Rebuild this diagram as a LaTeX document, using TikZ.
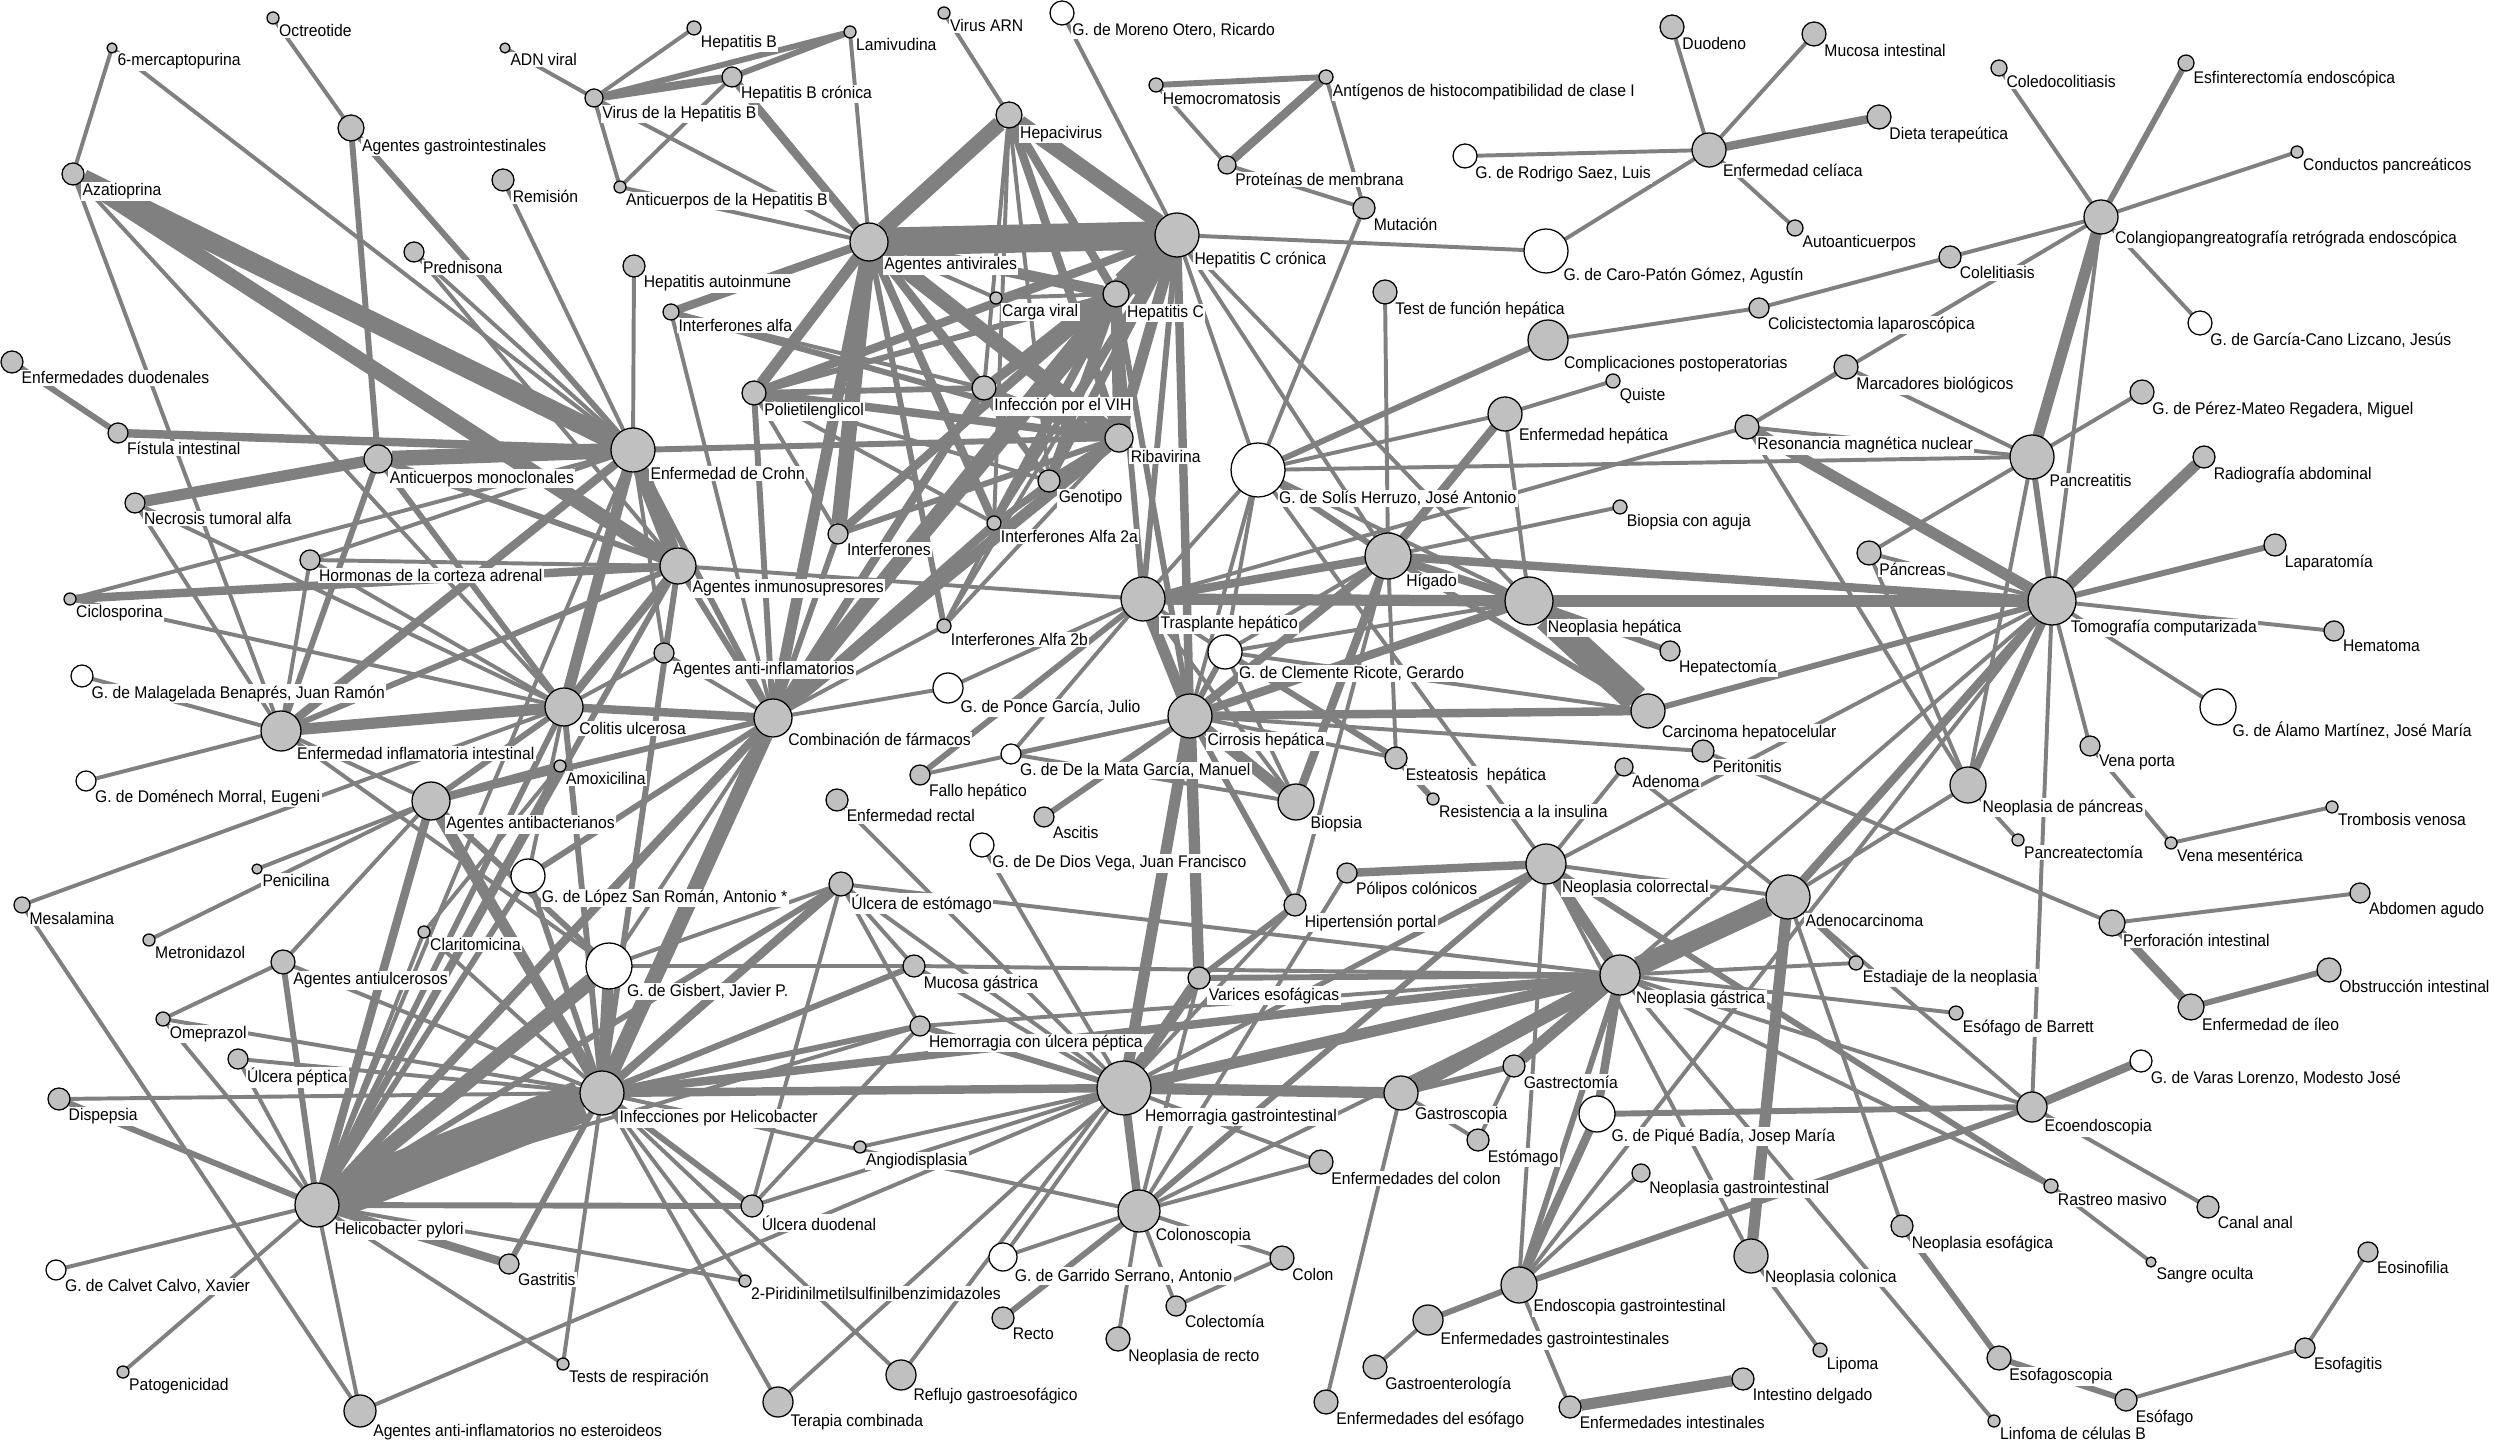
\documentclass[tikz,border=0pt]{standalone}
\usepackage{fontspec}
\newfontfamily\lab[FakeStretch=0.93]{Liberation Sans}
\definecolor{eg}{RGB}{128,128,128}
\definecolor{ng}{RGB}{192,192,192}
\pgfdeclarelayer{back}\pgfdeclarelayer{bg}
\pgfsetlayers{back,bg,main}
\tikzset{
 nbase/.style={circle,draw=black,line width=0.45pt,inner sep=0pt,outer sep=0pt},
 gnode/.style={nbase,fill=ng},
 wnode/.style={nbase,fill=white},
 lbl/.style={anchor=north west,inner sep=0.5pt,fill=white,font=\lab\fontsize{6}{6}\selectfont,text=black},
 ed/.style={draw=eg,line cap=butt},
 e1/.style={ed,line width=1.4pt},
 e2/.style={ed,line width=2.1pt},
 e3/.style={ed,line width=3pt},
 e4/.style={ed,line width=4pt},
 e5/.style={ed,line width=5.5pt},
 e6/.style={ed,line width=7pt},
 e7/.style={ed,line width=10pt},
}
\newcommand\gnd[5]{\node[gnode,minimum size={#4*0.025cm},label={[lbl]-45:{#5}}] (#1) at (#2,#3) {};}
\newcommand\wnd[5]{\node[wnode,minimum size={#4*0.025cm},label={[lbl]-45:{#5}}] (#1) at (#2,#3) {};}
\begin{document}
\begin{tikzpicture}[x=0.0125cm,y=-0.0125cm]
\begin{pgfonlayer}{back}
\fill[white] (0,0) rectangle (2500,1440);
\end{pgfonlayer}
\useasboundingbox (0,0) rectangle (2500,1440);
\gnd{mercap}{112}{48}{5}{6-mercaptopurina}
\gnd{octreo}{273}{18}{6}{Octreotide}
\gnd{adn}{505}{48}{5}{ADN viral}
\gnd{vhb}{594}{98}{9}{Virus de la Hepatitis B}
\gnd{hepb}{694}{28}{7}{Hepatitis B}
\gnd{lamiv}{850}{32}{6}{Lamivudina}
\gnd{hepbcr}{732}{77}{10}{Hepatitis B crónica}
\gnd{virarn}{944}{13}{6}{Virus ARN}
\wnd{moreno}{1062}{13}{12}{G. de Moreno Otero, Ricardo}
\gnd{hemocr}{1156}{85}{7}{Hemocromatosis}
\gnd{antig}{1326}{77}{7}{Antígenos de histocompatibilidad de clase I}
\gnd{protmem}{1227}{165}{9}{Proteínas de membrana}
\gnd{mutac}{1364}{208}{11}{Mutación}
\wnd{rodrigo}{1465}{156}{12}{G. de Rodrigo Saez, Luis}
\gnd{duoden}{1672}{27}{12}{Duodeno}
\gnd{mucint}{1814}{34}{12}{Mucosa intestinal}
\gnd{celiac}{1709}{150}{17}{Enfermedad celíaca}
\gnd{dieta}{1879}{117}{12}{Dieta terapeútica}
\gnd{autoac}{1795}{228}{8}{Autoanticuerpos}
\wnd{caro}{1546}{251}{22}{G. de Caro-Patón Gómez, Agustín}
\gnd{testfh}{1385}{292}{12}{Test de función hepática}
\gnd{complic}{1548}{340}{20}{Complicaciones postoperatorias}
\gnd{colicis}{1759}{308}{10}{Colicistectomia laparoscópica}
\gnd{quiste}{1613}{381}{7}{Quiste}
\gnd{enfhep}{1505}{414}{17}{Enfermedad hepática}
\gnd{marcad}{1846}{367}{12}{Marcadores biológicos}
\gnd{resonan}{1747}{427}{12}{Resonancia magnética nuclear}
\gnd{coledo}{1999}{68}{8}{Coledocolitiasis}
\gnd{esfint}{2186}{63}{8}{Esfinterectomía endoscópica}
\gnd{conduct}{2297}{152}{6}{Conductos pancreáticos}
\gnd{cpre}{2101}{217}{17}{Colangiopangreatografía retrógrada endoscópica}
\gnd{colelit}{1950}{257}{11}{Colelitiasis}
\wnd{garcano}{2200}{323}{12}{G. de García-Cano Lizcano, Jesús}
\gnd{perezm}{2142}{392}{12}{G. de Pérez-Mateo Regadera, Miguel}
\gnd{pancrea}{2032}{457}{22}{Pancreatitis}
\gnd{radiog}{2204}{457}{11}{Radiografía abdominal}
\gnd{agastro}{351}{128}{13}{Agentes gastrointestinales}
\gnd{azatio}{73}{174}{11}{Azatioprina}
\gnd{remis}{503}{180}{11}{Remisión}
\gnd{predn}{414}{252}{10}{Prednisona}
\gnd{enfduo}{12}{362}{11}{Enfermedades duodenales}
\gnd{fistula}{118}{433}{10}{Fístula intestinal}
\gnd{anticm}{378}{459}{14}{Anticuerpos monoclonales}
\gnd{crohn}{633}{450}{22}{Enfermedad de Crohn}
\gnd{ahbv}{620}{187}{6}{Anticuerpos de la Hepatitis B}
\gnd{hepaci}{1009}{115}{13}{Hepacivirus}
\gnd{antivir}{869}{242}{19}{Agentes antivirales}
\gnd{hepccr}{1177}{235}{22}{Hepatitis C crónica}
\gnd{hepautoi}{634}{266}{11}{Hepatitis autoinmune}
\gnd{ifnalfa}{671}{312}{8}{Interferones alfa}
\gnd{carga}{996}{298}{6}{Carga viral}
\gnd{hepc}{1116}{294}{13}{Hepatitis C}
\gnd{peg}{754}{393}{12}{Polietilenglicol}
\gnd{vih}{984}{388}{12}{Infección por el VIH}
\gnd{ribav}{1119}{438}{14}{Ribavirina}
\wnd{solis}{1258}{470}{27}{G. de Solís Herruzo, José Antonio}
\gnd{necros}{135}{503}{10}{Necrosis tumoral alfa}
\gnd{hormon}{310}{560}{10}{Hormonas de la corteza adrenal}
\gnd{ciclos}{70}{599}{6}{Ciclosporina}
\wnd{malag}{82}{676}{11}{G. de Malagelada Benaprés, Juan Ramón}
\gnd{eii}{281}{731}{20}{Enfermedad inflamatoria intestinal}
\gnd{colitis}{564}{707}{19}{Colitis ulcerosa}
\wnd{domen}{86}{781}{10}{G. de Doménech Morral, Eugeni}
\gnd{amoxi}{560}{766}{6}{Amoxicilina}
\gnd{antibac}{431}{801}{19}{Agentes antibacterianos}
\gnd{penic}{257}{869}{5}{Penicilina}
\wnd{lopez}{528}{876}{17}{G. de López San Román, Antonio *}
\gnd{mesal}{22}{905}{8}{Mesalamina}
\gnd{metron}{149}{940}{6}{Metronidazol}
\gnd{clarit}{424}{932}{6}{Claritomicina}
\gnd{antiulc}{283}{962}{12}{Agentes antiulcerosos}
\gnd{genot}{1049}{481}{11}{Genotipo}
\gnd{ifnza}{994}{523}{7}{Interferones Alfa 2a}
\gnd{ifn}{838}{534}{10}{Interferones}
\gnd{inmuno}{678}{566}{18}{Agentes inmunosupresores}
\gnd{trasp}{1143}{599}{22}{Trasplante hepático}
\gnd{ifnzb}{944}{626}{7}{Interferones Alfa 2b}
\gnd{antiinf}{664}{653}{10}{Agentes anti-inflamatorios}
\wnd{ponce}{948}{688}{15}{G. de Ponce García, Julio}
\wnd{clemente}{1225}{652}{17}{G. de Clemente Ricote, Gerardo}
\gnd{combin}{773}{718}{19}{Combinación de fármacos}
\gnd{cirros}{1190}{716}{22}{Cirrosis hepática}
\wnd{delamata}{1011}{754}{10}{G. de De la Mata García, Manuel}
\gnd{fallo}{920}{775}{10}{Fallo hepático}
\gnd{enfrect}{837}{800}{11}{Enfermedad rectal}
\gnd{ascit}{1044}{817}{10}{Ascitis}
\wnd{dedios}{982}{845}{12}{G. de De Dios Vega, Juan Francisco}
\gnd{ulcest}{841}{884}{12}{Úlcera de estómago}
\gnd{mucgas}{914}{966}{11}{Mucosa gástrica}
\gnd{bioaguja}{1620}{507}{7}{Biopsia con aguja}
\gnd{higado}{1388}{556}{23}{Hígado}
\gnd{neohep}{1529}{601}{24}{Neoplasia hepática}
\gnd{hepatect}{1670}{651}{10}{Hepatectomía}
\gnd{carcino}{1648}{711}{17}{Carcinoma hepatocelular}
\gnd{esteat}{1396}{758}{11}{Esteatosis\ \ hepática}
\gnd{perit}{1703}{751}{11}{Peritonitis}
\gnd{adenoma}{1624}{767}{9}{Adenoma}
\gnd{biopsia}{1296}{802}{18}{Biopsia}
\gnd{resist}{1433}{799}{6}{Resistencia a la insulina}
\gnd{neocolr}{1546}{864}{20}{Neoplasia colorrectal}
\gnd{polipos}{1347}{873}{10}{Pólipos colónicos}
\gnd{hiperport}{1295}{905}{11}{Hipertensión portal}
\gnd{adenoca}{1788}{897}{22}{Adenocarcinoma}
\gnd{pancreas}{1869}{553}{12}{Páncreas}
\gnd{tomog}{2052}{601}{24}{Tomografía computarizada}
\gnd{laparat}{2275}{545}{11}{Laparatomía}
\gnd{hemat}{2334}{631}{10}{Hematoma}
\wnd{alamo}{2218}{707}{18}{G. de Álamo Martínez, José María}
\gnd{venap}{2090}{746}{10}{Vena porta}
\gnd{neopanc}{1968}{785}{18}{Neoplasia de páncreas}
\gnd{tromb}{2332}{807}{6}{Trombosis venosa}
\gnd{pancreat}{2018}{840}{6}{Pancreatectomía}
\gnd{venames}{2171}{843}{6}{Vena mesentérica}
\gnd{abdomen}{2360}{893}{10}{Abdomen agudo}
\gnd{perfor}{2112}{923}{13}{Perforación intestinal}
\gnd{obstruc}{2329}{970}{12}{Obstrucción intestinal}
\gnd{omepr}{163}{1019}{7}{Omeprazol}
\gnd{ulcpep}{238}{1059}{10}{Úlcera péptica}
\gnd{dispep}{59}{1099}{11}{Dispepsia}
\gnd{helico}{317}{1205}{22}{Helicobacter pylori}
\wnd{calvet}{56}{1270}{10}{G. de Calvet Calvo, Xavier}
\gnd{gastritis}{509}{1264}{10}{Gastritis}
\gnd{patog}{123}{1372}{6}{Patogenicidad}
\gnd{tests}{563}{1364}{6}{Tests de respiración}
\gnd{aine}{360}{1411}{16}{Agentes anti-inflamatorios no esteroideos}
\gnd{infhel}{602}{1093}{22}{Infecciones por Helicobacter}
\wnd{gisbert}{609}{966}{23}{G. de Gisbert, Javier P.}
\gnd{varices}{1199}{978}{11}{Varices esofágicas}
\gnd{hemulc}{920}{1026}{10}{Hemorragia con úlcera péptica}
\gnd{hemgi}{1124}{1088}{27}{Hemorragia gastrointestinal}
\gnd{angio}{860}{1147}{6}{Angiodisplasia}
\gnd{ulcduo}{752}{1206}{11}{Úlcera duodenal}
\gnd{colonos}{1139}{1211}{21}{Colonoscopia}
\wnd{garrido}{1003}{1257}{14}{G. de Garrido Serrano, Antonio}
\gnd{piridin}{745}{1281}{6}{2-Piridinilmetilsulfinilbenzimidazoles}
\gnd{recto}{1003}{1318}{11}{Recto}
\gnd{colect}{1176}{1306}{10}{Colectomía}
\gnd{neorect}{1118}{1339}{12}{Neoplasia de recto}
\gnd{reflujo}{901}{1375}{15}{Reflujo gastroesofágico}
\gnd{terapia}{778}{1402}{15}{Terapia combinada}
\gnd{colon}{1282}{1258}{12}{Colon}
\gnd{neogas}{1620}{975}{20}{Neoplasia gástrica}
\gnd{gastrect}{1514}{1066}{11}{Gastrectomía}
\gnd{gastros}{1401}{1093}{17}{Gastroscopia}
\wnd{pique}{1597}{1114}{18}{G. de Piqué Badía, Josep María}
\gnd{estom}{1478}{1140}{11}{Estómago}
\gnd{enfcolon}{1321}{1162}{12}{Enfermedades del colon}
\gnd{neogi}{1641}{1173}{9}{Neoplasia gastrointestinal}
\gnd{neocolon}{1751}{1256}{17}{Neoplasia colonica}
\gnd{endosc}{1519}{1285}{18}{Endoscopia gastrointestinal}
\gnd{enfgi}{1428}{1320}{15}{Enfermedades gastrointestinales}
\gnd{gastroent}{1375}{1367}{12}{Gastroenterología}
\gnd{lipoma}{1820}{1350}{7}{Lipoma}
\gnd{intdelg}{1743}{1379}{11}{Intestino delgado}
\gnd{enfesof}{1326}{1402}{12}{Enfermedades del esófago}
\gnd{enfint}{1570}{1407}{11}{Enfermedades intestinales}
\gnd{estadia}{1856}{963}{7}{Estadiaje de la neoplasia}
\gnd{ileo}{2191}{1007}{13}{Enfermedad de íleo}
\gnd{barrett}{1956}{1013}{7}{Esófago de Barrett}
\wnd{varas}{2141}{1061}{11}{G. de Varas Lorenzo, Modesto José}
\gnd{ecoend}{2032}{1107}{15}{Ecoendoscopia}
\gnd{rastreo}{2051}{1186}{7}{Rastreo masivo}
\gnd{canal}{2208}{1207}{11}{Canal anal}
\gnd{neoesof}{1902}{1226}{11}{Neoplasia esofágica}
\gnd{sangre}{2151}{1262}{5}{Sangre oculta}
\gnd{eosin}{2368}{1252}{10}{Eosinofilia}
\gnd{esofagitis}{2305}{1348}{10}{Esofagitis}
\gnd{esofagos}{1999}{1358}{12}{Esofagoscopia}
\gnd{esofago}{2126}{1400}{11}{Esófago}
\gnd{linfoma}{1994}{1421}{6}{Linfoma de células B}
\begin{pgfonlayer}{bg}
\foreach \u/\v in {mercap/azatio, mercap/crohn, octreo/agastro, azatio/colitis, azatio/eii, predn/crohn, predn/inmuno, remis/crohn, necros/eii, necros/colitis, hormon/crohn, hormon/colitis, hormon/eii, hormon/inmuno, ciclos/colitis, ciclos/crohn, malag/eii, domen/eii, eii/gisbert, eii/antibac, mesal/colitis, mesal/aine, penic/antibac, metron/antibac, amoxi/clarit, clarit/helico, clarit/infhel, antibac/antiulc, antibac/colitis, antiulc/infhel, antiulc/omepr, omepr/helico, omepr/infhel, ulcpep/helico, ulcpep/infhel, dispep/infhel, calvet/helico, patog/helico, aine/helico, aine/hemgi, helico/tests, helico/piridin, helico/mucgas, helico/hemulc, helico/crohn, lopez/colitis, gisbert/ulcest, gisbert/mucgas, gisbert/combin, infhel/tests, infhel/terapia, infhel/reflujo, infhel/piridin, ulcduo/hemgi, ulcduo/ulcest, ulcduo/hemulc, ulcest/mucgas, ulcest/hemulc, ulcest/hemgi, ulcest/neogas, mucgas/neogas, angio/hemgi, terapia/hemgi, reflujo/varices, crohn/antiinf, crohn/hepautoi, ifnalfa/combin, inmuno/antiinf, inmuno/trasp, colitis/antiinf, antiinf/combin, combin/ifnzb, combin/genot, combin/ponce, antivir/carga, antivir/lamiv, antivir/ahbv, antivir/vhb, hepaci/virarn, hepaci/vih, hepaci/genot, hepaci/ifnza, hepccr/ifnzb, hepccr/carga, hepccr/solis, hepccr/higado, hepccr/neohep, hepccr/moreno, hepccr/caro, hepc/carga, hepc/ifnzb, peg/ifnza, peg/ifn, peg/genot, vih/genot, ribav/ifnzb, genot/ifnza, ifnalfa/vih, trasp/solis, trasp/clemente, trasp/ponce, trasp/biopsia, trasp/delamata, cirros/delamata, cirros/esteat, cirros/perit, cirros/solis, dedios/hemgi, higado/bioaguja, higado/clemente, higado/testfh, higado/esteat, higado/hiperport, solis/enfhep, solis/mutac, solis/pancrea, solis/neohep, solis/clemente, solis/neocolr, neohep/enfhep, neohep/clemente, carcino/clemente, biopsia/delamata, biopsia/clemente, enfhep/quiste, complic/colicis, adenoma/neocolr, adenoma/adenoca, polipos/colonos, neocolr/adenoca, neocolr/endosc, neocolr/neocolon, adenoca/neopanc, adenoca/neoesof, adenoca/ecoend, adenoca/estadia, hemgi/tomog, endosc/tomog, neogas/hemulc, neogas/estadia, neogas/barrett, neogas/ecoend, neogas/rastreo, neogas/linfoma, neogas/tomog, neogas/colonos, gastros/estom, gastrect/estom, gastros/enfesof, hemgi/mucgas, hemgi/garrido, hemgi/enfcolon, hemgi/neocolr, hemgi/hiperport, colonos/garrido, colonos/colect, colonos/neorect, colonos/colon, colonos/enfcolon, colonos/varices, colonos/infhel, colon/colect, enfgi/gastroent, endosc/enfint, endosc/neogi, neocolon/lipoma, pancrea/pancreas, pancrea/perezm, pancrea/marcad, pancrea/resonan, pancrea/neopanc, pancreas/tomog, pancreas/neopanc, tomog/hemat, tomog/alamo, tomog/venap, tomog/ecoend, tomog/cpre, neopanc/pancreat, neopanc/resonan, venap/venames, venames/tromb, perit/perfor, perfor/abdomen, ecoend/canal, rastreo/sangre, esofago/esofagitis, esofagitis/eosin, marcad/resonan, colicis/colelit, coledo/cpre, conduct/cpre, garcano/cpre, colelit/cpre, celiac/duoden, celiac/mucint, celiac/autoac, celiac/rodrigo, celiac/caro, hemocr/protmem, antig/mutac, protmem/mutac, vhb/adn, vhb/hepb, vhb/ahbv, hepbcr/ahbv, resonan/trasp, cpre/resonan, enfrect/hemgi, fallo/cirros}
 \draw[e1] (\u) -- (\v);
\foreach \u/\v in {agastro/anticm, agastro/crohn, enfduo/fistula, anticm/inmuno, anticm/colitis, anticm/eii, eii/inmuno, amoxi/helico, antibac/gisbert, antibac/combin, antiulc/helico, dispep/helico, helico/lopez, helico/ulcduo, helico/ulcest, helico/colitis, lopez/infhel, infhel/mucgas, infhel/hemulc, infhel/ulcduo, infhel/gastritis, infhel/colitis, crohn/combin, crohn/ribav, inmuno/combin, inmuno/infhel, inmuno/helico, colitis/antibac, combin/peg, combin/ifn, combin/lopez, combin/ifnza, antivir/ifnzb, antivir/genot, hepccr/ifnza, hepccr/trasp, hepc/peg, hepc/ifn, hepc/cirros, hepc/trasp, peg/vih, vih/ribav, ribav/ifnza, ribav/ifn, ifnalfa/ribav, vhb/lamiv, hepbcr/lamiv, cirros/hiperport, cirros/ascit, cirros/clemente, higado/solis, higado/carcino, neohep/hepatect, carcino/tomog, esteat/resist, esteat/clemente, neocolr/colonos, neocolr/rastreo, neogas/endosc, neogas/varices, gastros/gastrect, hemgi/hemulc, colonos/recto, endosc/enfgi, endosc/ecoend, pancrea/tomog, tomog/laparat, ileo/obstruc, ecoend/pique, neoesof/esofagos, esofagos/esofago, esfint/cpre, hemocr/antig, fallo/trasp, hiperport/varices, solis/complic}
 \draw[e2] (\u) -- (\v);
\foreach \u/\v in {fistula/crohn, ciclos/inmuno, amoxi/antibac, antibac/helico, helico/gastritis, helico/combin, infhel/ulcest, infhel/neogas, infhel/hemgi, inmuno/colitis, colitis/combin, combin/vih, combin/hepccr, antivir/vih, antivir/ifnalfa, antivir/ifnza, antivir/hepbcr, vhb/hepbcr, hepaci/hepc, hepaci/ribav, hepccr/vih, hepccr/genot, hepccr/peg, hepccr/ifn, hepccr/cirros, hepc/vih, hepc/genot, hepc/ifnza, peg/ribav, ribav/genot, trasp/higado, cirros/higado, cirros/neohep, cirros/carcino, higado/neohep, higado/enfhep, higado/biopsia, higado/tomog, neogas/pique, pique/endosc, hemgi/colonos, tomog/neopanc, perfor/ileo, ecoend/varas, celiac/dieta, antig/protmem, eii/crohn, polipos/neocolr, adenoca/tomog}
 \draw[e3] (\u) -- (\v);
\foreach \u/\v in {anticm/necros, eii/colitis, antibac/infhel, gisbert/infhel, antivir/hepc, antivir/combin, antivir/peg, hepccr/ribav, hepc/ribav, trasp/cirros, trasp/neohep, cirros/biopsia, cirros/varices, cirros/hemgi, neohep/tomog, neogas/gastrect, neogas/hemgi, neocolr/neogas, gastros/hemgi, hemgi/varices, tomog/radiog, tomog/resonan, adenoca/neocolon, pancrea/cpre, crohn/colitis, intdelg/enfint, combin/ribav}
 \draw[e4] (\u) -- (\v);
\foreach \u/\v in {azatio/inmuno, anticm/crohn, helico/gisbert, infhel/combin, crohn/inmuno, antivir/hepaci, antivir/ribav, antivir/ifn, hepaci/hepccr, neogas/gastros, combin/hepc}
 \draw[e5] (\u) -- (\v);
\foreach \u/\v in {azatio/crohn, adenoca/neogas}
 \draw[e6] (\u) -- (\v);
\foreach \u/\v in {antivir/hepccr, hepccr/hepc, neohep/carcino}
 \draw[e7] (\u) -- (\v);
\draw[ed,line width=15pt] (helico) -- (infhel);
\end{pgfonlayer}
\end{tikzpicture}
\end{document}
